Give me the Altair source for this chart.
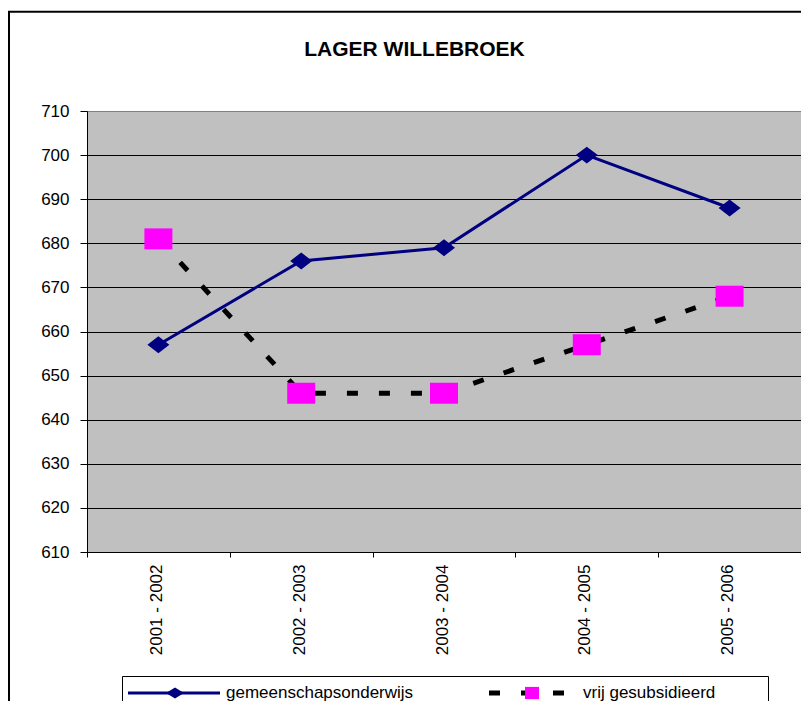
import altair as alt
import pandas as pd

# ---- data ----
categories = ["2001 - 2002", "2002 - 2003", "2003 - 2004", "2004 - 2005", "2005 - 2006"]
gemeenschapsonderwijs = [657, 676, 679, 700, 688]
vrij_gesubsidieerd = [681, 646, 646, 657, 668]
y_ticks = [610, 620, 630, 640, 650, 660, 670, 680, 690, 700, 710]
series_names = ["gemeenschapsonderwijs", "vrij gesubsidieerd"]
title_text = "LAGER WILLEBROEK"

df1 = pd.DataFrame({"jaar": categories, "leerlingen": gemeenschapsonderwijs, "reeks": series_names[0]})
df2 = pd.DataFrame({"jaar": categories, "leerlingen": vrij_gesubsidieerd, "reeks": series_names[1]})
one = pd.DataFrame({"a": [0]})

FONT = "Liberation Sans"
W, H = 714, 441
NAVY = "#000080"
MAGENTA = "#FF00FF"
DIAMOND = "M-1,0L0,-0.77L1,0L0,0.77Z"
RECT = "M-1,-0.75L1,-0.75L1,0.75L-1,0.75Z"
LEG_DIAMOND = "M-1,0L0,-0.62L1,0L0,0.62Z"
LEG_RECT = "M-1,-0.87L1,-0.87L1,0.87L-1,0.87Z"

x_enc = alt.X(
    "jaar:N",
    sort=categories,
    bandPosition=0.5,
    scale=alt.Scale(type="band", domain=categories, paddingInner=0, paddingOuter=0),
    axis=alt.Axis(
        title=None, labelAngle=-90, tickBand="extent", ticks=True, tickSize=5,
        tickColor="black", domainColor="black", domainWidth=1, labelPadding=7,
        labelFontSize=17, labelFont=FONT, labelColor="black", grid=False,
        labelOffset=-2,
    ),
)
y_enc = alt.Y(
    "leerlingen:Q",
    scale=alt.Scale(domain=[610, 710], nice=False, zero=False),
    axis=alt.Axis(
        title=None, values=y_ticks, tickSize=7, tickColor="black",
        domainColor="black", domainWidth=1, labelPadding=11, labelFontSize=17,
        labelFont=FONT, labelColor="black", grid=True,
        gridColor={"condition": {"test": "datum.value === 710", "value": "#808080"}, "value": "black"},
        gridWidth=1, gridOpacity=1,
    ),
)

line1 = alt.Chart(df1).mark_line(color=NAVY, strokeWidth=3).encode(x=x_enc, y=y_enc)
pts1 = alt.Chart(df1).mark_point(shape=DIAMOND, size=484, filled=True, color=NAVY, opacity=1).encode(x=x_enc, y=y_enc)
line2 = alt.Chart(df2).mark_line(color="black", strokeWidth=5, strokeDash=[11, 21], strokeCap="butt").encode(x=x_enc, y=y_enc)
pts2 = alt.Chart(df2).mark_point(shape=RECT, size=784, filled=True, color=MAGENTA, opacity=1).encode(x=x_enc, y=y_enc)

# ---- chart title ----
title = alt.Chart(pd.DataFrame({"t": [title_text]})).mark_text(
    align="center", baseline="alphabetic", font=FONT, fontSize=21, fontWeight="bold", color="black").encode(
    x=alt.value(327.5), y=alt.value(-55.5), text="t:N")

# ---- outer frame (top and left edges visible in the reference) ----
frame_left = alt.Chart(one).mark_rule(color="black", strokeWidth=2).encode(
    x=alt.value(-78), y=alt.value(-100), y2=alt.value(600))
frame_top = alt.Chart(one).mark_rule(color="black", strokeWidth=2).encode(
    x=alt.value(-79), x2=alt.value(730), y=alt.value(-99.3))

# ---- legend drawn at the bottom ----
leg_box = alt.Chart(one).mark_rect(fill="white", stroke="black", strokeWidth=1).encode(
    x=alt.value(35.5), x2=alt.value(681.5), y=alt.value(565.5), y2=alt.value(620))
leg_line1 = alt.Chart(one).mark_rule(color=NAVY, strokeWidth=3).encode(
    x=alt.value(41), x2=alt.value(133), y=alt.value(582))
leg_pt1 = alt.Chart(one).mark_point(shape=LEG_DIAMOND, size=324, filled=True, color=NAVY, opacity=1).encode(
    x=alt.value(88), y=alt.value(582))
leg_txt1 = alt.Chart(pd.DataFrame({"t": [series_names[0]]})).mark_text(
    align="left", baseline="alphabetic", font=FONT, fontSize=17, color="black").encode(
    x=alt.value(139), y=alt.value(587), text="t:N")
leg_line2 = alt.Chart(one).mark_rule(color="black", strokeWidth=5, strokeDash=[11, 21], strokeCap="butt").encode(
    x=alt.value(402), x2=alt.value(477), y=alt.value(582))
leg_pt2 = alt.Chart(one).mark_point(shape=LEG_RECT, size=196, filled=True, color=MAGENTA, opacity=1).encode(
    x=alt.value(445), y=alt.value(582))
leg_txt2 = alt.Chart(pd.DataFrame({"t": [series_names[1]]})).mark_text(
    align="left", baseline="alphabetic", font=FONT, fontSize=17, color="black").encode(
    x=alt.value(496), y=alt.value(587), text="t:N")

chart = alt.layer(
    line1, line2, pts1, pts2, title,
    frame_left, frame_top,
    leg_box, leg_line1, leg_pt1, leg_txt1, leg_line2, leg_pt2, leg_txt2,
).properties(
    width=W,
    height=H,
    autosize=alt.AutoSizeParams(type="none"),
    padding={"left": 79, "top": 103, "right": 0, "bottom": 149},
    background="white",
).configure_view(
    fill="#C0C0C0", stroke="#808080", strokeWidth=1,
)

chart.save("out.html", embed_options={"renderer": "svg", "actions": False})
